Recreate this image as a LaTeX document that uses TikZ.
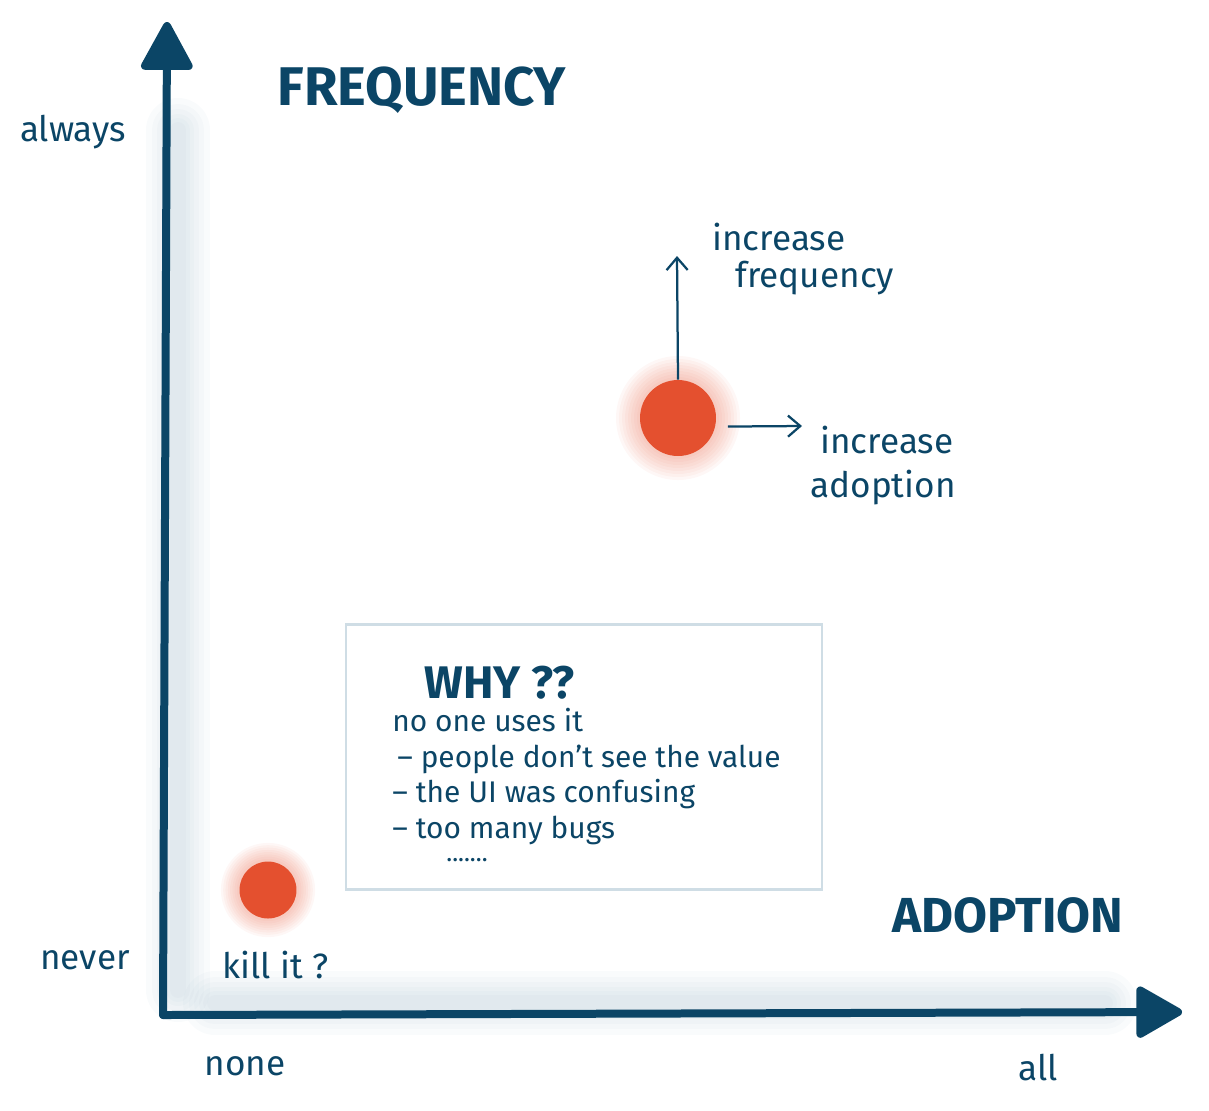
\documentclass[tikz,border=0pt]{standalone}
\usepackage{fontspec}
\setmainfont{Fira Sans}
\usepackage{tikz}
\usetikzlibrary{arrows.meta, positioning}
\definecolor{ink}{HTML}{0B4566}
\definecolor{dotred}{HTML}{E4502F}
\definecolor{boxline}{HTML}{CFDDE5}
\definecolor{haze}{HTML}{7FA3B8}

\begin{document}
\begin{tikzpicture}[
    x=0.02cm, y=-0.02cm,
    axis/.style={draw=ink, line width=0.16cm, line cap=round},
    hand/.style={font=\fontsize{20}{24}\selectfont, text=ink, inner sep=0pt},
    title/.style={font=\fontsize{31}{36}\selectfont\bfseries, text=ink, inner sep=0pt},
    reasons/.style={font=\fontsize{17}{20.2}\selectfont, text=ink, align=left, inner sep=0pt},
    dot/.style={circle, fill=dotred, inner sep=0pt},
    handarrow/.style={draw=ink, line width=0.045cm, -{Straight Barb[length=7pt, width=12pt]}},
    whybox/.style={draw=boxline, line width=0.05cm, fill=white, inner sep=0pt},
]
    \useasboundingbox (0,0) rectangle (1209,1110);

    % Soft haze along the axes
    \foreach \w in {64, 52, 42, 32, 24, 16} {
        \draw[haze, line width=\w*0.02cm, opacity=0.045, line cap=round] (178,130) -- (178,990);
        \draw[haze, line width=\w*0.02cm, opacity=0.045, line cap=round] (215,1003) -- (1105,1003);
    }

    % Axes
    \coordinate (origin) at (163,1015);
    \coordinate (ytip) at (167,22);
    \coordinate (xtip) at (1182,1012);
    \draw[axis, -{Triangle[length=1.05cm, width=1.1cm, round]}] (origin) -- (ytip);
    \draw[axis, -{Triangle[length=1.0cm, width=1.1cm, round]}] (origin) -- (xtip);

    % Axis titles and ends
    \node[title] (freq) at (422,90) {FREQUENCY};
    \node[title, font=\fontsize{28}{32}\selectfont\bfseries] (adopt) at (1008,915) {ADOPTION};
    \node[hand] (always) at (73,132) {always};
    \node[hand] (never) at (85,960) {never};
    \node[hand] (none) at (245,1066) {none};
    \node[hand] (all) at (1038,1068) {all};

    % Dots with glow
    \foreach \r in {41, 44, ..., 62} {
        \fill[dotred, opacity=0.045] (678,418) circle (\r*0.02cm);
        \fill[dotred, opacity=0.045] (268,890) circle (\r*0.02cm*0.76);
    }
    \node[dot, minimum size=1.52cm] (bigdot) at (678,418) {};
    \node[dot, minimum size=1.14cm] (smalldot) at (268,890) {};

    % Arrows from the big dot
    \coordinate (uptip) at (677,256);
    \coordinate (righttip) at (802,426);
    \draw[handarrow] (bigdot.north) -- (uptip);
    \draw[handarrow, shorten <=0.25cm] (bigdot.-13) -- (righttip);
    \node[hand, anchor=west] (incfreq) at (712,237) {increase};
    \node[hand, anchor=west] (freqword) at (735,278) {frequency};
    \node[hand, anchor=west] (incadopt) at (820,440) {increase};
    \node[hand, anchor=west] (adoptword) at (810,488) {adoption};

    \node[hand, anchor=west] (kill) at (222,965) {kill it ?};

    % Why box
    \node[whybox, minimum width=9.52cm, minimum height=5.3cm] (why) at (584,757) {};
    \node[title, font=\fontsize{26}{30}\selectfont\bfseries, anchor=west] (whytitle) at (424,683) {WHY ??};
    \node[reasons, anchor=north west] (whylist) at (392,708) {no one uses it\\
        \,– people don't see the value\\
        – the UI was confusing\\
        – too many bugs};
    \node[reasons, font=\fontsize{14}{16}\selectfont, anchor=west] (whymore) at (446,860) {.......};
\end{tikzpicture}
\end{document}
